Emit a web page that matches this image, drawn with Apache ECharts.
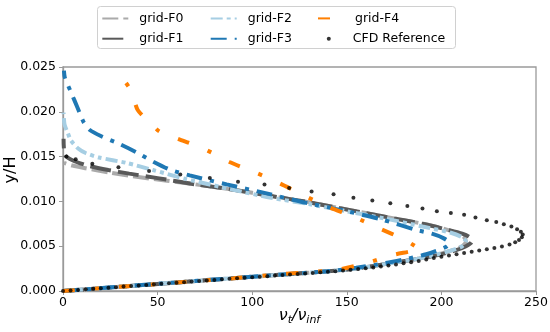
<!DOCTYPE html>
<html><head><meta charset="utf-8">
<script src="https://cdn.jsdelivr.net/npm/echarts@6/dist/echarts.min.js"></script>
<style>html,body{margin:0;padding:0;background:#fff}#c{width:550px;height:332px}</style>
</head><body><div id="c"></div>
<script>
const xTicks = [0, 50, 100, 150, 200, 250];
const yTicks = [0, 0.005, 0.010, 0.015, 0.020, 0.025];
const seriesNames = ['grid-F0', 'grid-F1', 'grid-F2', 'grid-F3', 'grid-F4', 'CFD Reference'];

const gridF0 = [[0,0],[30,0.00047],[60,0.00095],[90,0.00142],[120,0.00189],[140,0.0022],[155,0.0025],[170,0.0030],[185,0.0035],[197,0.0040],[205,0.0045],[211,0.0050],[213,0.0055],[212,0.0060],[208,0.0065],[195,0.0073],[175,0.0081],[160,0.0087],[145,0.0093],[130,0.0099],[110,0.0106],[90,0.0113],[70,0.0119],[55,0.0123],[37,0.0128],[25,0.0132],[12,0.0137],[5,0.0140],[0.5,0.0143]];
const gridF1 = [[0,0],[30,0.00047],[60,0.00095],[90,0.00143],[120,0.0019],[140,0.0022],[155,0.0025],[170,0.0030],[185,0.0035],[198,0.0040],[207,0.0045],[213,0.0050],[216,0.0055],[215,0.0060],[211,0.0064],[204,0.0068],[190,0.0075],[175,0.0081],[160,0.0087],[145,0.0093],[130,0.0099],[110,0.0106],[90,0.0113],[70,0.0119],[50,0.0126],[35,0.0131],[24,0.0135],[13,0.0140],[5,0.0146],[1,0.0152],[0.3,0.0170]];
const gridF2 = [[0,0],[30,0.00048],[60,0.00096],[90,0.00144],[120,0.0019],[140,0.0022],[155,0.0025],[170,0.0030],[185,0.0035],[196,0.0040],[205,0.0045],[211,0.0050],[213,0.0055],[211,0.0060],[205,0.0065],[190,0.0072],[170,0.0081],[150,0.0089],[130,0.0097],[110,0.0104],[90,0.0113],[65,0.0125],[47.6,0.0135],[33.5,0.0143],[19,0.0149],[12,0.0154],[8,0.0159],[4.2,0.0168],[2.6,0.0176],[0.8,0.0186],[0.3,0.0199]];
const gridF3 = [[0,0],[30,0.00048],[60,0.00096],[90,0.00144],[120,0.0019],[140,0.0022],[155,0.0026],[170,0.0031],[182,0.0036],[192,0.0041],[199,0.0046],[203,0.0050],[204,0.0054],[201,0.0059],[195,0.0064],[187,0.0068],[168,0.0080],[148,0.0090],[127,0.0099],[107.6,0.0109],[86.5,0.0119],[67,0.0129],[57,0.0135],[48,0.0144],[38.6,0.0155],[30,0.0164],[20,0.0173],[14,0.0180],[11,0.0188],[7.8,0.0204],[4.2,0.0222],[1,0.0238],[0.5,0.0246]];
const gridF4 = [[0,0],[30,0.00047],[60,0.00094],[90,0.00142],[117,0.0019],[131,0.0021],[146,0.0024],[160,0.0031],[174,0.0040],[183,0.0044],[189,0.0047],[187,0.0049],[180,0.0058],[167,0.0070],[153.5,0.0083],[140,0.0094],[128,0.0106],[114.7,0.0120],[102,0.0132],[88,0.0144],[79,0.0154],[72,0.0161],[61.8,0.0169],[51,0.0178],[47,0.0186],[39.5,0.0202],[36.4,0.0222],[32,0.0236],[31,0.0238]];
const cfdReference = [[0,0],[4,0.00006],[8,0.00012],[12,0.00019],[16,0.00025],[20,0.00031],[24,0.00037],[28,0.00043],[32,0.0005],[36,0.00056],[40,0.00062],[44,0.00068],[48,0.00074],[52,0.0008],[56,0.00086],[60,0.00093],[64,0.00099],[68,0.00105],[72,0.00111],[76,0.00117],[80,0.00123],[84,0.0013],[88,0.00136],[92,0.00142],[96,0.00148],[100,0.00154],[104,0.0016],[108,0.00166],[112,0.00172],[116,0.00178],[120,0.00184],[124,0.0019],[128,0.00196],[132,0.00202],[136,0.00209],[140,0.00215],[144,0.00221],[148,0.00229],[152,0.00237],[156,0.00245],[160,0.00254],[164,0.00263],[168,0.00273],[172,0.00284],[176,0.00296],[180,0.00309],[184,0.00322],[188,0.00336],[192,0.00352],[196,0.00367],[200,0.00382],[204,0.00397],[208,0.00411],[212,0.00425],[216,0.00438],[220,0.00451],[224,0.00466],[228,0.0048],[232,0.00497],[236,0.00518],[239,0.00543],[241,0.0057],[242.5,0.006],[243,0.0063],[242,0.0066],[240,0.0069],[237,0.0072],[233,0.00745],[229,0.0077],[224,0.0079],[218,0.0082],[212,0.0085],[205,0.0087],[197.6,0.0089],[190,0.0092],[182,0.0095],[173,0.0098],[163.5,0.0101],[153.5,0.0104],[143,0.0108],[131.4,0.0111],[119.5,0.0115],[106.5,0.0119],[92.5,0.0122],[77.6,0.0126],[62,0.0130],[45.5,0.0134],[29.3,0.0138],[15.5,0.0142],[6.7,0.0147],[1.8,0.0150]];

const lineData = [gridF0, gridF1, gridF2, gridF3, gridF4];
const colors = ['#aaaaaa', '#595959', '#a6cee3', '#1f78b4', '#ff7f00'];
const dashes = [[16,5],[21,7],[12,4,4,4,4,4],[16,8,4,8],[12,20,4,20]];

const FONT = 'DejaVu Sans';
const chart = echarts.init(document.getElementById('c'), null, {renderer: 'canvas'});

const series = lineData.map((d, i) => ({
  name: seriesNames[i], type: 'line', data: d, symbol: 'none', smooth: 0.25,
  lineStyle: {color: colors[i], width: 4, type: dashes[i], cap: 'butt'},
  itemStyle: {color: colors[i]}, z: 2 + i, animation: false
}));
series.push({
  name: seriesNames[5], type: 'scatter', data: cfdReference, symbol: 'circle', symbolSize: 4,
  itemStyle: {color: '#000000'}, z: 10, animation: false
});

const legendPos = [[101.3, 16.7], [101.3, 37], [209.7, 16.7], [209.7, 37], [317, 16.7], [326.8, 37]];
const legends = seriesNames.map((n, i) => ({
  orient: 'vertical', padding: 0, itemWidth: 26, itemHeight: 4,
  left: legendPos[i][0], top: legendPos[i][1] - 4.8,
  textStyle: {fontFamily: FONT, fontSize: 12.5, color: '#000', padding: [0,0,0,6]},
  itemStyle: i < 5 ? {opacity: 0} : {},
  selectedMode: false,
  data: i < 5 ? [n] : [{name: n, icon: 'circle'}]
}));

chart.setOption({
  animation: false,
  backgroundColor: '#ffffff',
  grid: {left: 63, right: 14, top: 67, bottom: 41, show: true, borderColor: '#9a9a9a', borderWidth: 1.3, containLabel: false, outerBoundsMode: 'none'},
  graphic: [{type: 'rect', shape: {x: 97.5, y: 6.5, width: 358, height: 42, r: 3}, style: {fill: '#fff', stroke: '#d0d0d0', lineWidth: 1}, z: -1, silent: true}],
  legend: legends,
  xAxis: {
    type: 'value', min: xTicks[0], max: xTicks[xTicks.length-1], interval: xTicks[1]-xTicks[0],
    splitLine: {show: false},
    axisLine: {show: true, onZero: false, lineStyle: {color: '#9a9a9a', width: 1.3}},
    axisTick: {show: true, inside: false, length: 4, lineStyle: {color: '#9a9a9a', width: 1}},
    axisLabel: {fontFamily: FONT, fontSize: 12.5, color: '#000', margin: 5, hideOverlap: false},
    name: '{v|ν}{s|t}{v|/ν}{s|inf}', nameLocation: 'middle', nameGap: 14, nameMoveOverlap: false,
    nameTextStyle: {fontFamily: FONT, color: '#000', rich: {
      v: {fontFamily: FONT, fontSize: 16, fontStyle: 'italic', color: '#000'},
      s: {fontFamily: FONT, fontSize: 11, fontStyle: 'italic', color: '#000', padding: [10,0,0,0]}
    }}
  },
  yAxis: {
    type: 'value', min: yTicks[0], max: yTicks[yTicks.length-1], interval: yTicks[1]-yTicks[0],
    splitLine: {show: false},
    axisLine: {show: true, onZero: false, lineStyle: {color: '#9a9a9a', width: 1.3}},
    axisTick: {show: true, inside: false, length: 4, lineStyle: {color: '#9a9a9a', width: 1}},
    axisLabel: {fontFamily: FONT, fontSize: 12.5, color: '#000', margin: 7, hideOverlap: false, showMinLabel: true, showMaxLabel: true, formatter: v => v.toFixed(3)},
    name: 'y/H', nameLocation: 'middle', nameGap: 44, nameMoveOverlap: false,
    nameTextStyle: {fontFamily: FONT, fontSize: 16, color: '#000', padding: [0,0,0,18]}
  },
  series: series
});
</script>
</body></html>
